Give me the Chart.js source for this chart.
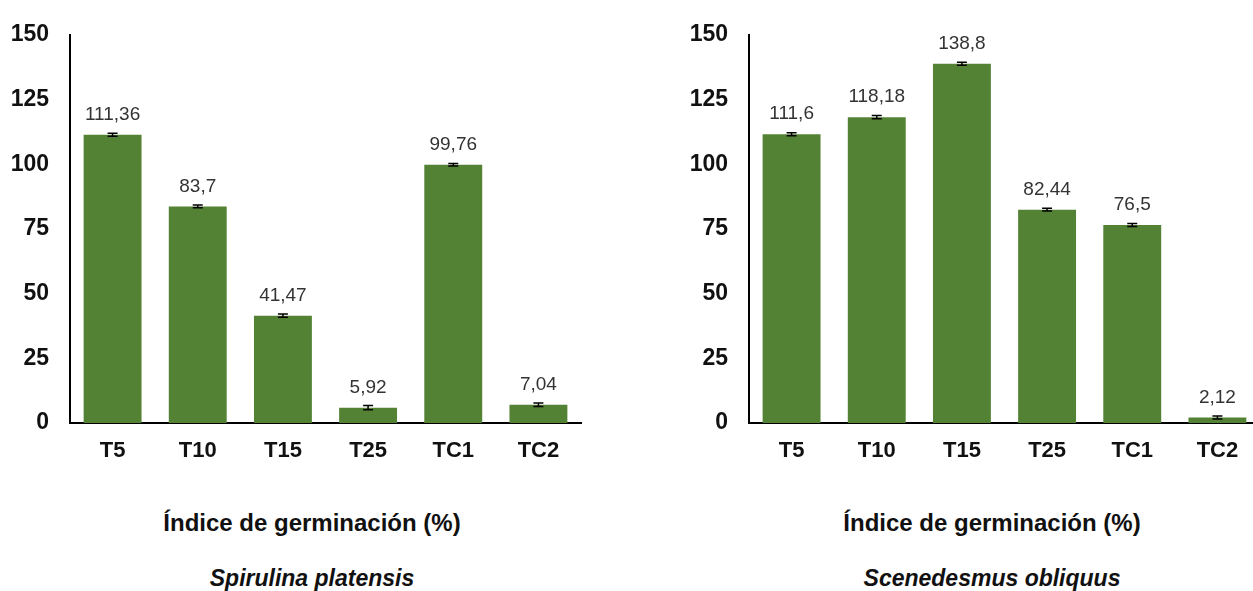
<!DOCTYPE html>
<html>
<head>
<meta charset="utf-8">
<script src="https://cdn.jsdelivr.net/npm/chart.js@4.4.1/dist/chart.umd.min.js"></script>
<style>
  html, body { margin: 0; padding: 0; background: #fff; overflow: hidden; width: 1253px; height: 591px; }
  canvas { position: absolute; top: 0; }
  .lbl { position: absolute; width: 400px; text-align: center; font-family: "Liberation Sans", Arial, sans-serif;
         font-weight: bold; color: #111; line-height: 1; }
  .axis { font-size: 24px; top: 511px; }
  .species { font-size: 23px; font-style: italic; top: 567px; }
</style>
</head>
<body>
<canvas id="chartLeft" width="600" height="480" style="left:0px"></canvas>
<canvas id="chartRight" width="600" height="480" style="left:679px"></canvas>

<div class="lbl axis" style="left:112px">Índice de germinación (%)</div>
<div class="lbl species" style="left:112px">Spirulina platensis</div>
<div class="lbl axis" style="left:792px">Índice de germinación (%)</div>
<div class="lbl species" style="left:792px">Scenedesmus obliquus</div>

<script>
// datos
const categories = ['T5', 'T10', 'T15', 'T25', 'TC1', 'TC2'];
const spirulinaValues = [111.36, 83.7, 41.47, 5.92, 99.76, 7.04];
const spirulinaErrors = [0.6, 0.5, 0.6, 0.8, 0.5, 0.7];
const scenedesmusValues = [111.6, 118.18, 138.8, 82.44, 76.5, 2.12];
const scenedesmusErrors = [0.6, 0.6, 0.6, 0.5, 0.6, 0.6];
const yMin = 0, yMax = 150, yStep = 25;

const FONT = '"Liberation Sans", Arial, sans-serif';
const BAR_COLOR = '#548235';

// error bars + value labels over each bar
const barExtras = {
    id: 'barExtras',
    afterDatasetsDraw(chart, args, opts) {
        const ctx = chart.ctx;
        const yScale = chart.scales.y;
        const meta = chart.getDatasetMeta(0);
        const values = chart.data.datasets[0].data;
        meta.data.forEach((bar, i) => {
            const v = values[i], err = opts.errors[i];
            const yHi = yScale.getPixelForValue(v + err);
            const yLo = yScale.getPixelForValue(v - err);
            ctx.save();
            ctx.strokeStyle = '#000';
            ctx.lineWidth = 1.5;
            ctx.beginPath();
            ctx.moveTo(bar.x, yHi); ctx.lineTo(bar.x, yLo);
            ctx.moveTo(bar.x - 5, yHi); ctx.lineTo(bar.x + 5, yHi);
            ctx.moveTo(bar.x - 5, yLo); ctx.lineTo(bar.x + 5, yLo);
            ctx.stroke();

            ctx.fillStyle = '#333';
            ctx.font = '19px ' + FONT;
            ctx.textAlign = 'center';
            ctx.textBaseline = 'middle';
            ctx.fillText(String(v).replace('.', ','), bar.x, bar.y - 20);
            ctx.restore();
        });
    }
};

function makeChart(id, values, errors) {
    return new Chart(document.getElementById(id), {
        type: 'bar',
        data: {
            labels: categories,
            datasets: [{
                data: values,
                backgroundColor: BAR_COLOR,
                borderWidth: 0,
                categoryPercentage: 1,
                barPercentage: 0.68
            }]
        },
        options: {
            responsive: false,
            animation: false,
            layout: { padding: { top: 27, right: 19, left: 0, bottom: 0 } },
            plugins: {
                legend: { display: false },
                tooltip: { enabled: false },
                barExtras: { errors: errors }
            },
            scales: {
                x: {
                    grid: { display: false, drawTicks: false },
                    border: { color: '#000', width: 2 },
                    ticks: { color: '#111', padding: 15, font: { family: FONT, size: 22, weight: 'bold' } },
                    afterFit: s => { s.height = 57; }
                },
                y: {
                    min: yMin, max: yMax,
                    grid: { display: false, drawTicks: false },
                    border: { color: '#000', width: 2 },
                    ticks: { stepSize: yStep, color: '#111', padding: 21, font: { family: FONT, size: 23, weight: 'bold' } },
                    afterFit: s => { s.width = 70; }
                }
            }
        },
        plugins: [barExtras]
    });
}

makeChart('chartLeft', spirulinaValues, spirulinaErrors);
makeChart('chartRight', scenedesmusValues, scenedesmusErrors);
</script>
</body>
</html>
